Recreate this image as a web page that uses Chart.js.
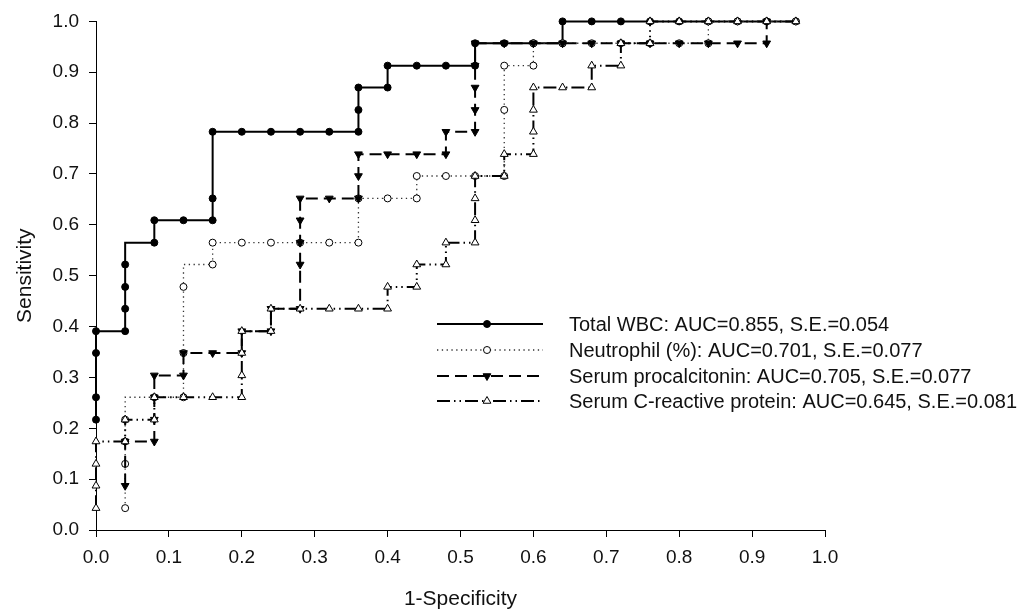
<!DOCTYPE html>
<html>
<head>
<meta charset="utf-8">
<script src="https://cdn.jsdelivr.net/npm/chart.js@4/dist/chart.umd.min.js"></script>
<style>
  body { margin: 0; background: #fff; }
  #wrap { width: 1021px; height: 615px; }
</style>
</head>
<body>
<div id="wrap"><canvas id="rocChart" width="1021" height="615"></canvas></div>
<script>
// Legend labels
const seriesLabels = [
  'Total WBC: AUC=0.855, S.E.=0.054',
  'Neutrophil (%): AUC=0.701, S.E.=0.077',
  'Serum procalcitonin: AUC=0.705, S.E.=0.077',
  'Serum C-reactive protein: AUC=0.645, S.E.=0.081'
]

// Tick labels
const tickValues = [0, 0.1, 0.2, 0.3, 0.4, 0.5, 0.6, 0.7, 0.8, 0.9, 1.0]

// Total WBC (1-specificity, sensitivity)
const wbcX = [0, 0, 0, 0, 0.04, 0.04, 0.04, 0.04, 0.08, 0.08, 0.12, 0.16, 0.16, 0.16, 0.20, 0.24, 0.28, 0.32, 0.36, 0.36, 0.36, 0.40, 0.40, 0.44, 0.48, 0.52, 0.52, 0.56, 0.60, 0.64, 0.64, 0.68, 0.72, 0.76, 0.80, 0.84, 0.88, 0.92, 0.96]
const wbcY = [0.217, 0.261, 0.348, 0.391, 0.391, 0.435, 0.478, 0.522, 0.565, 0.609, 0.609, 0.609, 0.652, 0.783, 0.783, 0.783, 0.783, 0.783, 0.783, 0.826, 0.870, 0.870, 0.913, 0.913, 0.913, 0.913, 0.957, 0.957, 0.957, 0.957, 1.0, 1.0, 1.0, 1.0, 1.0, 1.0, 1.0, 1.0, 1.0]

// Neutrophil (%)
const neuX = [0.04, 0.04, 0.04, 0.04, 0.08, 0.12, 0.12, 0.12, 0.16, 0.16, 0.20, 0.24, 0.28, 0.32, 0.36, 0.36, 0.40, 0.44, 0.44, 0.48, 0.52, 0.56, 0.56, 0.56, 0.60, 0.60, 0.64, 0.68, 0.72, 0.76, 0.80, 0.84, 0.84, 0.88, 0.92, 0.96]
const neuY = [0.043, 0.130, 0.174, 0.217, 0.261, 0.261, 0.348, 0.478, 0.522, 0.565, 0.565, 0.565, 0.565, 0.565, 0.565, 0.652, 0.652, 0.652, 0.696, 0.696, 0.696, 0.696, 0.826, 0.913, 0.913, 0.957, 0.957, 0.957, 0.957, 0.957, 0.957, 0.957, 1.0, 1.0, 1.0, 1.0]

// Serum procalcitonin
const pctX = [0.04, 0.04, 0.08, 0.08, 0.08, 0.08, 0.12, 0.12, 0.16, 0.20, 0.20, 0.24, 0.24, 0.28, 0.28, 0.28, 0.28, 0.28, 0.32, 0.36, 0.36, 0.36, 0.40, 0.44, 0.48, 0.48, 0.52, 0.52, 0.52, 0.52, 0.52, 0.56, 0.60, 0.64, 0.68, 0.72, 0.76, 0.80, 0.84, 0.88, 0.92, 0.92]
const pctY = [0.087, 0.174, 0.174, 0.217, 0.261, 0.304, 0.304, 0.348, 0.348, 0.348, 0.391, 0.391, 0.435, 0.435, 0.522, 0.565, 0.609, 0.652, 0.652, 0.652, 0.696, 0.739, 0.739, 0.739, 0.739, 0.783, 0.783, 0.826, 0.870, 0.913, 0.957, 0.957, 0.957, 0.957, 0.957, 0.957, 0.957, 0.957, 0.957, 0.957, 0.957, 1.0]

// Serum C-reactive protein
const crpX = [0, 0, 0, 0, 0.04, 0.04, 0.08, 0.08, 0.12, 0.16, 0.20, 0.20, 0.20, 0.20, 0.24, 0.24, 0.28, 0.32, 0.36, 0.40, 0.40, 0.44, 0.44, 0.48, 0.48, 0.52, 0.52, 0.52, 0.52, 0.56, 0.56, 0.60, 0.60, 0.60, 0.60, 0.64, 0.68, 0.68, 0.72, 0.72, 0.76, 0.76, 0.80, 0.84, 0.88, 0.92, 0.96]
const crpY = [0.043, 0.087, 0.130, 0.174, 0.174, 0.217, 0.217, 0.261, 0.261, 0.261, 0.261, 0.304, 0.348, 0.391, 0.391, 0.435, 0.435, 0.435, 0.435, 0.435, 0.478, 0.478, 0.522, 0.522, 0.565, 0.565, 0.609, 0.652, 0.696, 0.696, 0.739, 0.739, 0.783, 0.826, 0.870, 0.870, 0.870, 0.913, 0.913, 0.957, 0.957, 1.0, 1.0, 1.0, 1.0, 1.0, 1.0]

function toPoints(xs, ys) {
  return xs.map((x, i) => ({ x: x, y: ys[i] }))
}

const FONT = 'Arial, "Liberation Sans", Helvetica, sans-serif'

// line + marker look for each series (legend uses the same)
const styles = [
  { dash: [], width: 2, color: '#000', marker: 'circle', radius: 3.5, fill: '#000', rot: 0 },
  { dash: [1.3, 3.5], width: 1.3, color: '#333', marker: 'circle', radius: 3.5, fill: '#fff', rot: 0 },
  { dash: [12, 6], width: 2, color: '#000', marker: 'triangle', radius: 4.5, fill: '#000', rot: 180 },
  { dash: [13, 4, 1.5, 4, 1.5, 4], width: 2, color: '#000', marker: 'triangle', radius: 4.5, fill: '#fff', rot: 0 }
]
const dataSets = [toPoints(wbcX, wbcY), toPoints(neuX, neuY), toPoints(pctX, pctY), toPoints(crpX, crpY)]
const drawOrder = [3, 2, 1, 0]

// ROC steps: go up first, then across
const datasets = dataSets.map((pts, i) => ({
  label: seriesLabels[i],
  data: pts,
  showLine: true,
  stepped: 'after',
  clip: false,
  order: drawOrder[i],
  borderColor: styles[i].color,
  borderWidth: styles[i].width,
  borderDash: styles[i].dash,
  pointStyle: styles[i].marker,
  pointRadius: styles[i].radius,
  pointRotation: styles[i].rot,
  pointBackgroundColor: styles[i].fill,
  pointBorderColor: '#000',
  pointBorderWidth: 1
}))

function drawMarker(ctx, st, x, y) {
  ctx.save()
  ctx.setLineDash([])
  ctx.fillStyle = st.fill
  ctx.strokeStyle = '#000'
  ctx.lineWidth = 1
  ctx.beginPath()
  if (st.marker === 'circle') {
    ctx.arc(x, y, st.radius, 0, Math.PI * 2)
  } else {
    const r = st.radius
    const dir = st.rot === 180 ? -1 : 1
    ctx.moveTo(x, y - dir * r)
    ctx.lineTo(x - r * 0.866, y + dir * r * 0.5)
    ctx.lineTo(x + r * 0.866, y + dir * r * 0.5)
    ctx.closePath()
  }
  ctx.fill()
  ctx.stroke()
  ctx.restore()
}

// legend drawn inside the plot, lower right
const rocLegend = {
  id: 'rocLegend',
  afterDraw(chart) {
    const ctx = chart.ctx
    const x0 = 437, x1 = 543, tx = 569
    const rows = [324, 350, 376, 401]
    seriesLabels.forEach((label, i) => {
      const st = styles[i]
      ctx.save()
      ctx.strokeStyle = st.color
      ctx.lineWidth = st.width
      ctx.setLineDash(st.dash)
      ctx.beginPath()
      ctx.moveTo(x0, rows[i])
      ctx.lineTo(x1, rows[i])
      ctx.stroke()
      ctx.restore()
      drawMarker(ctx, st, (x0 + x1) / 2 - 3, rows[i])
      ctx.save()
      ctx.fillStyle = '#111'
      ctx.font = '20px ' + FONT
      ctx.textBaseline = 'middle'
      ctx.textAlign = 'left'
      ctx.fillText(label, tx, rows[i] + 1)
      ctx.restore()
    })
  }
}

const ctx = document.getElementById('rocChart')

let rocChart = new Chart(ctx, {
  type: 'scatter',
  data: { datasets: datasets },
  plugins: [rocLegend],
  options: {
    responsive: false,
    animation: false,
    layout: { padding: { top: 19, right: 196, left: 0, bottom: 0 } },
    plugins: {
      legend: { display: false },
      tooltip: { enabled: false }
    },
    scales: {
      x: {
        type: 'linear',
        min: 0,
        max: 1,
        afterFit: (scale) => { scale.height = 85 },
        afterBuildTicks: (scale) => { scale.ticks = tickValues.map(v => ({ value: v })) },
        border: { display: true, color: '#000', width: 1 },
        grid: { drawOnChartArea: false, drawTicks: true, tickLength: 7, color: '#000' },
        ticks: {
          padding: 9,
          color: '#111',
          font: { family: FONT, size: 19 },
          maxRotation: 0,
          callback: (v) => Number(v).toFixed(1)
        },
        title: {
          display: true,
          text: '1-Specificity',
          color: '#111',
          font: { family: FONT, size: 21 },
          padding: { top: 0, bottom: 3 }
        }
      },
      y: {
        type: 'linear',
        min: 0,
        max: 1,
        afterFit: (scale) => { scale.width = 96 },
        afterBuildTicks: (scale) => { scale.ticks = tickValues.map(v => ({ value: v })) },
        border: { display: true, color: '#000', width: 1 },
        grid: { drawOnChartArea: false, drawTicks: true, tickLength: 7, color: '#000' },
        ticks: {
          padding: 10,
          color: '#111',
          font: { family: FONT, size: 19 },
          callback: (v) => Number(v).toFixed(1)
        },
        title: {
          display: true,
          text: 'Sensitivity',
          color: '#111',
          font: { family: FONT, size: 21 },
          padding: { top: 13, bottom: 0 }
        }
      }
    }
  }
})
</script>
</body>
</html>
